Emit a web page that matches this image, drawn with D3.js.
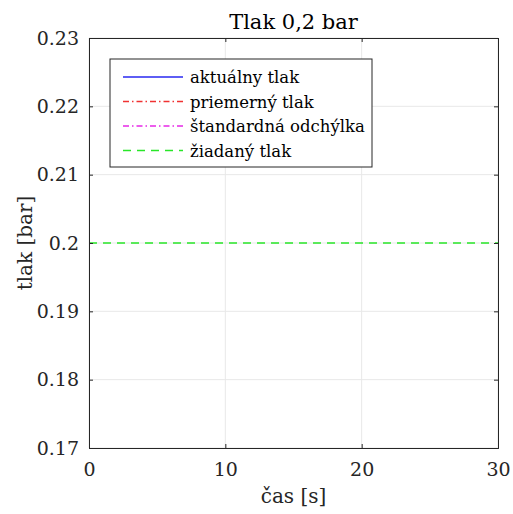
<!DOCTYPE html>
<html><head><meta charset="utf-8">
<script src="https://cdn.jsdelivr.net/npm/d3@7"></script>
<style>body{margin:0;background:#fff}svg{display:block}
text{font-family:"DejaVu Serif", serif;}</style>
</head><body>
<script>
// Data
const time = [0, 30];
const actualPressure = [];       // not visible in plotted range
const meanPressure = [];         // not visible
const stdDeviation = [];         // not visible
const desiredPressure = [0.2, 0.2];
const xTicks = [0, 10, 20, 30];
const yTicks = [0.17, 0.18, 0.19, 0.2, 0.21, 0.22, 0.23];
const yTickLabels = ["0.17","0.18","0.19","0.2","0.21","0.22","0.23"];
const legendLabels = ["aktuálny tlak","priemerný tlak","štandardná odchýlka","žiadaný tlak"];
const legendColors = ["rgb(40,40,240)","rgb(240,50,50)","rgb(230,40,230)","rgb(40,230,40)"];
const legendDash = [null,"6,3,1.5,3","6,3,1.5,3","8,6"];

const W = 513, H = 514;
const m = {l:89, r:498, t:38, b:448};
const font = "DejaVu Serif";
const svg = d3.select("body").append("svg").attr("width", W).attr("height", H);
const x = d3.scaleLinear().domain([0,30]).range([m.l, m.r]);
const y = d3.scaleLinear().domain([0.17,0.23]).range([m.b, m.t]);

// grid
svg.append("g").selectAll("line.gx").data(xTicks).join("line")
  .attr("x1", d=>x(d)).attr("x2", d=>x(d)).attr("y1", m.t).attr("y2", m.b)
  .attr("stroke", "#e8e8e8").attr("stroke-width", 1);
svg.append("g").selectAll("line.gy").data(yTicks).join("line")
  .attr("y1", d=>y(d)).attr("y2", d=>y(d)).attr("x1", m.l).attr("x2", m.r)
  .attr("stroke", "#e8e8e8").attr("stroke-width", 1);

// desired line
const lineGen = d3.line().x((d,i)=>x(time[i])).y(d=>y(d));
svg.append("path").datum(desiredPressure).attr("d", lineGen)
  .attr("fill","none").attr("stroke","rgb(40,230,40)").attr("stroke-width",1.3)
  .attr("stroke-dasharray","8,6");

// axes
const tickLen = 4;
const axB = svg.append("g").attr("transform",`translate(0,${m.b})`)
  .call(d3.axisBottom(x).tickValues(xTicks).tickSize(-tickLen).tickPadding(15));
const axL = svg.append("g").attr("transform",`translate(${m.l},0)`)
  .call(d3.axisLeft(y).tickValues(yTicks).tickFormat((d,i)=>yTickLabels[i]).tickSize(-tickLen).tickPadding(10));
const axT = svg.append("g").attr("transform",`translate(0,${m.t})`)
  .call(d3.axisTop(x).tickValues(xTicks).tickSize(-tickLen).tickFormat(""));
const axR = svg.append("g").attr("transform",`translate(${m.r},0)`)
  .call(d3.axisRight(y).tickValues(yTicks).tickSize(-tickLen).tickFormat(""));
[axB,axL,axT,axR].forEach(a=>{
  a.attr("font-family", font).attr("font-size", 19);
  a.select(".domain").attr("stroke","#262626").attr("stroke-width",1);
  a.selectAll(".tick line").attr("stroke","#262626");
  a.selectAll("text").attr("fill","#262626");
});

// title and labels
svg.append("text").attr("x",(m.l+m.r)/2).attr("y",29).attr("text-anchor","middle")
  .attr("font-family",font).attr("font-size",21).attr("fill","#000").text("Tlak 0,2 bar");
svg.append("text").attr("x",(m.l+m.r)/2).attr("y",503).attr("text-anchor","middle")
  .attr("font-family",font).attr("font-size",20).attr("fill","#262626").text("čas [s]");
svg.append("text").attr("transform",`translate(32,${(m.t+m.b)/2}) rotate(-90)`).attr("text-anchor","middle")
  .attr("font-family",font).attr("font-size",20).attr("fill","#262626").text("tlak [bar]");

// legend
const lg = svg.append("g");
lg.append("rect").attr("x",110).attr("y",59).attr("width",262).attr("height",108)
  .attr("fill","#fff").attr("stroke","#262626").attr("stroke-width",1);
const rows = lg.selectAll("g.row").data(legendLabels).join("g")
  .attr("transform",(d,i)=>`translate(0,${77+i*24.5})`);
rows.append("line").attr("x1",123).attr("x2",183).attr("y1",0).attr("y2",0)
  .attr("stroke",(d,i)=>legendColors[i]).attr("stroke-width",1.3)
  .attr("stroke-dasharray",(d,i)=>legendDash[i]);
rows.append("text").attr("x",190).attr("y",6).text(d=>d)
  .attr("font-family",font).attr("font-size",16.5).attr("fill","#000");
</script>
</body></html>
